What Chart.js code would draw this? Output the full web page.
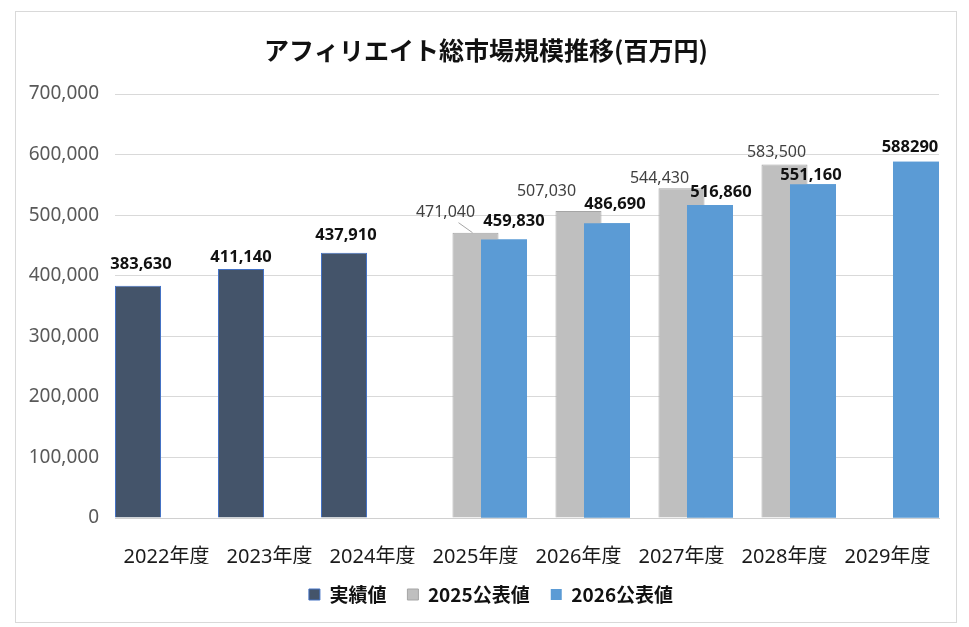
<!DOCTYPE html>
<html>
<head>
<meta charset="utf-8">
<title>アフィリエイト総市場規模推移</title>
<script src="https://cdn.jsdelivr.net/npm/chart.js@4.4.1/dist/chart.umd.min.js"></script>
<style>
html, body { margin: 0; padding: 0; background: #fff; }
#wrap { position: relative; width: 969px; height: 627px; }
</style>
</head>
<body>
<div id="wrap"><canvas id="myChart"></canvas></div>
<script>
// categories and series (百万円)
var years = ['2022年度', '2023年度', '2024年度', '2025年度', '2026年度', '2027年度', '2028年度', '2029年度'];
var actual = [383630, 411140, 437910, null, null, null, null, null];
var plan2025 = [null, null, null, 471040, 507030, 544430, 583500, null];
var plan2026 = [null, null, null, 459830, 486690, 516860, 551160, 588290];
var seriesNames = ['実績値', '2025公表値', '2026公表値'];

// y axis
var yMax = 700000;
var yStep = 100000;

// value label nudges [dx, height above bar top], one list per series
var actualShift = [[3, 21], [0, 12], [2, 17], null, null, null, null, null];
var plan2025Shift = [null, null, null, [-30, 20], [-32, 19], [-22, 10], [-8, 12], null];
var plan2026Shift = [null, null, null, [10, 18], [8, 19], [11, 13], [-2, 9], [-6, 14]];
var labelShift = [actualShift, plan2025Shift, plan2026Shift];
// the 2029 label is printed without a thousands separator in the original
var plainLabel = [[], [], [7]];

var numFont = "'Noto Sans', 'Noto Sans CJK JP', sans-serif";
var jpFont = "'Noto Sans CJK JP', 'Noto Sans', sans-serif";

function fmt(v) {
    return v.toString().replace(/\B(?=(\d{3})+(?!\d))/g, ',');
}

var frame = {
    id: 'frame',
    afterLayout: function(chart) {
        // title and legend sit a bit right of the layout centre in the original
        chart.titleBlock.left += 3;
        chart.titleBlock.right += 3;
        chart.legend.left += 8;
        chart.legend.right += 8;
    },
    beforeDraw: function(chart) {
        var ctx = chart.ctx;
        ctx.save();
        ctx.fillStyle = '#fff';
        ctx.fillRect(0, 0, chart.width, chart.height);
        ctx.strokeStyle = '#d9d9d9';
        ctx.lineWidth = 1;
        ctx.strokeRect(15.5, 11.5, 941, 611);
        ctx.restore();
    }
};

var valueLabels = {
    id: 'valueLabels',
    afterDatasetsDraw: function(chart) {
        var ctx = chart.ctx;
        // blue bars sit in front of the grey ones
        chart.getDatasetMeta(2).controller.draw();

        ctx.save();
        ctx.textAlign = 'center';
        ctx.textBaseline = 'middle';
        chart.data.datasets.forEach(function(ds, i) {
            var meta = chart.getDatasetMeta(i);
            ds.data.forEach(function(v, j) {
                if (v === null) return;
                var bar = meta.data[j];
                var s = labelShift[i][j] || [0, 14];
                var x = bar.x + s[0];
                var y = bar.y - s[1];
                if (i == 1) {
                    ctx.font = '16px ' + numFont;
                    ctx.fillStyle = '#404040';
                } else {
                    ctx.font = 'bold 16.5px ' + numFont;
                    ctx.fillStyle = '#111';
                }
                var txt = plainLabel[i].indexOf(j) >= 0 ? String(v) : fmt(v);
                ctx.fillText(txt, x, y);

                // leader line for the first 2025 label
                if (i == 1 && j == 3) {
                    ctx.strokeStyle = '#a6a6a6';
                    ctx.lineWidth = 1;
                    ctx.beginPath();
                    ctx.moveTo(bar.x - 17, bar.y - 10);
                    ctx.lineTo(bar.x - 3, bar.y);
                    ctx.stroke();
                }
            });
        });
        ctx.restore();
    }
};

var ctx = document.getElementById('myChart').getContext('2d');
var chart = new Chart(ctx, {
    type: 'bar',
    data: {
        labels: years,
        datasets: [{
            label: seriesNames[0],
            data: actual,
            backgroundColor: '#44546a',
            borderColor: '#4472c4',
            borderWidth: 1
        }, {
            label: seriesNames[1],
            data: plan2025,
            backgroundColor: '#bfbfbf',
            borderColor: '#a5a5a5',
            borderWidth: 1
        }, {
            label: seriesNames[2],
            data: plan2026,
            backgroundColor: '#5b9bd5',
            borderColor: '#5b9bd5',
            borderWidth: 0
        }]
    },
    options: {
        responsive: true,
        maintainAspectRatio: false,
        animation: false,
        // bars wider than their slot so neighbours overlap, like the Excel original
        categoryPercentage: 0.83,
        barPercentage: 1.614,
        layout: {
            padding: { left: 27, right: 30, top: 0, bottom: 13 }
        },
        plugins: {
            title: {
                display: true,
                text: 'アフィリエイト総市場規模推移(百万円)',
                color: '#111',
                font: { family: jpFont, size: 25, weight: 'bold', lineHeight: 1.2 },
                padding: { top: 35, bottom: 29 }
            },
            legend: {
                position: 'bottom',
                labels: {
                    boxWidth: 11,
                    boxHeight: 11,
                    padding: 21,
                    color: '#111',
                    font: { family: jpFont, size: 19, weight: 'bold' }
                }
            },
            tooltip: { enabled: false }
        },
        scales: {
            x: {
                grid: { display: false },
                border: { display: true, color: '#d0d0d0' },
                ticks: {
                    color: '#1a1a1a',
                    padding: 19,
                    font: { family: numFont, size: 20 }
                },
                afterFit: function(axis) { axis.height = 46; }
            },
            y: {
                min: 0,
                max: yMax,
                grid: { color: '#d9d9d9', drawTicks: false },
                border: { display: false },
                ticks: {
                    stepSize: yStep,
                    padding: 16,
                    color: '#595959',
                    font: { family: numFont, size: 19 },
                    callback: function(v) { return fmt(v); }
                },
                afterFit: function(axis) { axis.width = 88; }
            }
        }
    },
    plugins: [frame, valueLabels]
});
</script>
</body>
</html>
